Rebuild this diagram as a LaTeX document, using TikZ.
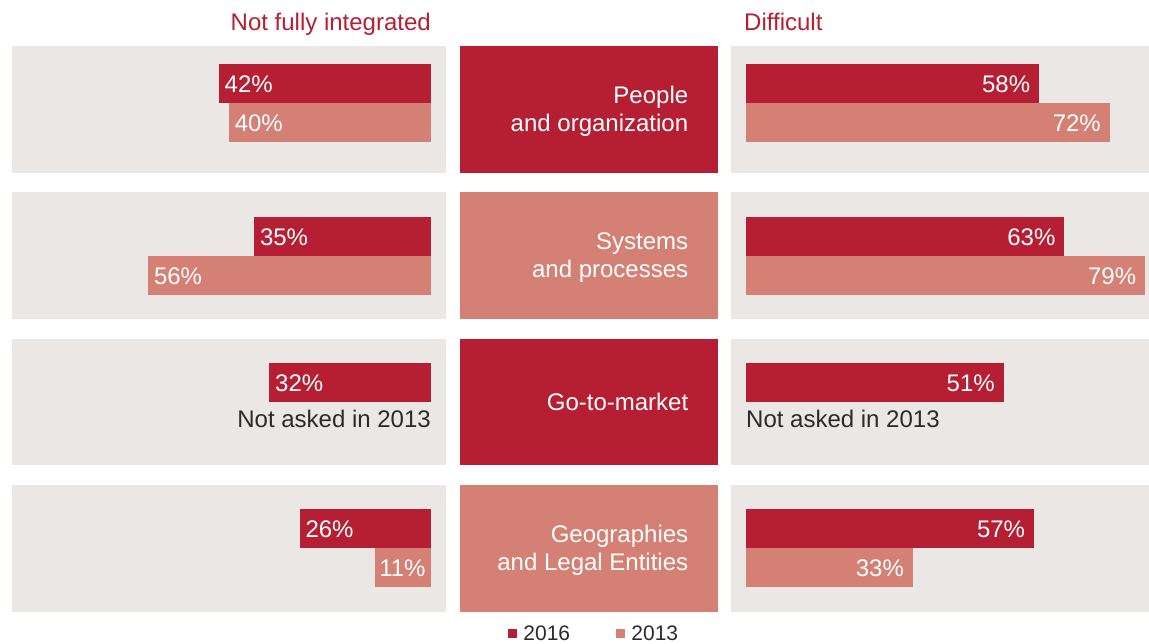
\documentclass[tikz,border=0pt]{standalone}
\usepackage{fontspec}
\setmainfont{Liberation Sans}
\usetikzlibrary{positioning}
\definecolor{darkred}{RGB}{182,31,51}
\definecolor{lightred}{RGB}{212,128,117}
\definecolor{panelgray}{RGB}{235,231,228}
\definecolor{inkgray}{RGB}{43,43,43}

\begin{document}
\begin{tikzpicture}[x=1pt, y=-1pt, pct/.style={minimum width=#1*5.05pt}]
    % Define styles
    \tikzstyle{panel} = [rectangle, fill=panelgray, minimum width=434pt, minimum height=126.5pt, inner sep=0pt, anchor=north west]
    \tikzstyle{topic} = [rectangle, minimum width=258pt, minimum height=126.5pt, inner sep=0pt, anchor=north west]
    \tikzstyle{topictext} = [text=white, align=right, font=\fontsize{24}{28}\selectfont, inner sep=0pt, anchor=east]
    \tikzstyle{bar16} = [rectangle, fill=darkred, minimum height=38.7pt, inner sep=0pt]
    \tikzstyle{bar13} = [rectangle, fill=lightred, minimum height=38.7pt, inner sep=0pt]
    \tikzstyle{val} = [text=white, font=\fontsize{24}{28}\selectfont, inner sep=0pt]
    \tikzstyle{note} = [text=inkgray, font=\fontsize{24}{28}\selectfont, inner sep=0pt]
    \tikzstyle{title} = [text=darkred, font=\fontsize{24}{28}\selectfont, inner sep=0pt]
    \tikzstyle{keybox} = [rectangle, minimum width=9pt, minimum height=9pt, inner sep=0pt]
    \tikzstyle{keytext} = [text=inkgray, font=\fontsize{21}{24}\selectfont, inner sep=0pt]

    \useasboundingbox (0,0) rectangle (1149,644);

    % Column titles
    \node[title, anchor=base east] (tleft) at (431,31) {Not fully integrated};
    \node[title, anchor=base west] (tright) at (744,31) {Difficult};

    % Row 1: people and organization
    \node[panel] (lp1) at (12,46) {};
    \node[topic, fill=darkred] (c1) at (460,46) {};
    \node[panel, minimum width=418pt] (rp1) at (731,46) {};
    \node[topictext] (t1) at ([xshift=-30pt,yshift=-1.5pt]c1.east) {People\\and organization};

    \node[bar16, pct=42, anchor=north east] (l1a) at (431,64) {};
    \node[bar13, pct=40, anchor=north east] (l1b) at (l1a.south east) {};
    \node[val, anchor=base west] (vl1a) at ([xshift=6pt,yshift=10.7pt]l1a.south west) {42\%};
    \node[val, anchor=base west] (vl1b) at ([xshift=6pt,yshift=10.7pt]l1b.south west) {40\%};

    \node[bar16, pct=58, anchor=north west] (r1a) at (746,64) {};
    \node[bar13, pct=72, anchor=north west] (r1b) at (r1a.south west) {};
    \node[val, anchor=base east] (vr1a) at ([xshift=-9pt,yshift=10.7pt]r1a.south east) {58\%};
    \node[val, anchor=base east] (vr1b) at ([xshift=-9pt,yshift=10.7pt]r1b.south east) {72\%};

    % Row 2: systems and processes
    \node[panel] (lp2) at (12,192.3) {};
    \node[topic, fill=lightred] (c2) at (460,192.3) {};
    \node[panel, minimum width=418pt] (rp2) at (731,192.3) {};
    \node[topictext] (t2) at ([xshift=-30pt,yshift=-1.5pt]c2.east) {Systems\\and processes};

    \node[bar16, pct=35, anchor=north east] (l2a) at (431,217) {};
    \node[bar13, pct=56, anchor=north east] (l2b) at (l2a.south east) {};
    \node[val, anchor=base west] (vl2a) at ([xshift=6pt,yshift=10.7pt]l2a.south west) {35\%};
    \node[val, anchor=base west] (vl2b) at ([xshift=6pt,yshift=10.7pt]l2b.south west) {56\%};

    \node[bar16, pct=63, anchor=north west] (r2a) at (746,217) {};
    \node[bar13, pct=79, anchor=north west] (r2b) at (r2a.south west) {};
    \node[val, anchor=base east] (vr2a) at ([xshift=-9pt,yshift=10.7pt]r2a.south east) {63\%};
    \node[val, anchor=base east] (vr2b) at ([xshift=-9pt,yshift=10.7pt]r2b.south east) {79\%};

    % Row 3: go-to-market (no 2013 data)
    \node[panel] (lp3) at (12,338.6) {};
    \node[topic, fill=darkred] (c3) at (460,338.6) {};
    \node[panel, minimum width=418pt] (rp3) at (731,338.6) {};
    \node[topictext] (t3) at ([xshift=-30pt]c3.east) {Go-to-market};

    \node[bar16, pct=32, anchor=north east] (l3a) at (431,363) {};
    \node[val, anchor=base west] (vl3a) at ([xshift=6pt,yshift=10.7pt]l3a.south west) {32\%};
    \node[note, anchor=base east] (nl3) at ([yshift=-25pt]l3a.south east) {Not asked in 2013};

    \node[bar16, pct=51, anchor=north west] (r3a) at (746,363) {};
    \node[val, anchor=base east] (vr3a) at ([xshift=-9pt,yshift=10.7pt]r3a.south east) {51\%};
    \node[note, anchor=base west] (nr3) at ([yshift=-25pt]r3a.south west) {Not asked in 2013};

    % Row 4: geographies and legal entities
    \node[panel] (lp4) at (12,485) {};
    \node[topic, fill=lightred] (c4) at (460,485) {};
    \node[panel, minimum width=418pt] (rp4) at (731,485) {};
    \node[topictext] (t4) at ([xshift=-30pt,yshift=-1.5pt]c4.east) {Geographies\\and Legal Entities};

    \node[bar16, pct=26, anchor=north east] (l4a) at (431,509) {};
    \node[bar13, pct=11, anchor=north east] (l4b) at (l4a.south east) {};
    \node[val, anchor=base west] (vl4a) at ([xshift=6pt,yshift=10.7pt]l4a.south west) {26\%};
    \node[val, anchor=base west] (vl4b) at ([xshift=4pt,yshift=10.7pt]l4b.south west) {11\%};

    \node[bar16, pct=57, anchor=north west] (r4a) at (746,509) {};
    \node[bar13, pct=33, anchor=north west] (r4b) at (r4a.south west) {};
    \node[val, anchor=base east] (vr4a) at ([xshift=-9pt,yshift=10.7pt]r4a.south east) {57\%};
    \node[val, anchor=base east] (vr4b) at ([xshift=-9pt,yshift=10.7pt]r4b.south east) {33\%};

    % Legend
    \node[keybox, fill=darkred] (k16) at (512.5,633) {};
    \node[keytext, right=6pt of k16] (kt16) {2016};
    \node[keybox, fill=lightred] (k13) at (620.5,633) {};
    \node[keytext, right=6pt of k13] (kt13) {2013};
\end{tikzpicture}
\end{document}
